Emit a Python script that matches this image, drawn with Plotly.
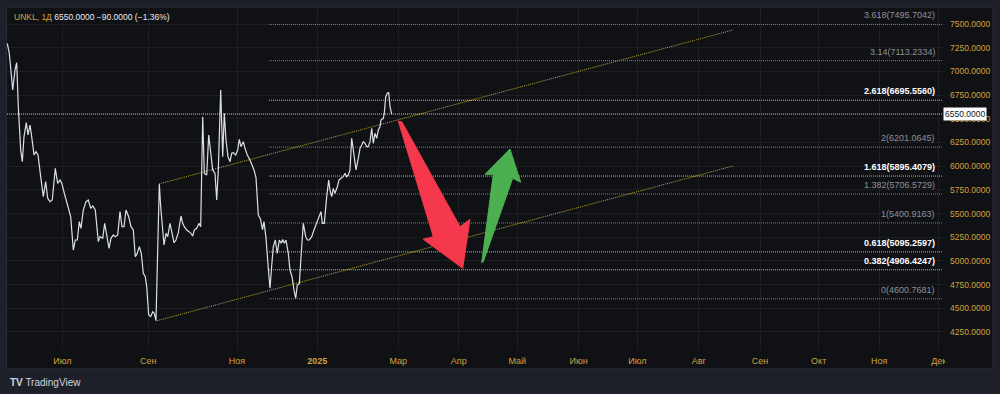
import plotly.graph_objects as go

# ---------------- data ----------------
# bar index (time position along the axis) and close prices
bar_t = [
    0.3, 2.3, 5.7, 8, 9.7, 11.3, 13.7, 15.3, 17, 19.3,
    21, 23, 24.7, 27, 29, 31, 33.7, 36.3, 38.7, 40.7,
    43, 45.3, 48.3, 50.7, 53, 55, 57.3, 61.3, 63.7, 66.3,
    68.3, 70.3, 72.3, 74, 76.3, 79, 81.3, 83.7, 85.7, 88.3,
    91.3, 93, 95.7, 97.7, 99.7, 102, 104, 106.3, 108.3, 110.7,
    113, 115, 117, 119, 121.7, 124, 126.3, 128.3, 130.3, 132.3,
    134.3, 136.3, 138.3, 139.7, 141.7, 143.7, 145.7, 147.3, 149, 152.3,
    153.7, 155.7, 157, 159, 160.7, 163, 164.7, 167, 169, 171.3,
    174, 175.7, 177.3, 179.7, 182, 184, 185.7, 187.3, 189.7, 192,
    193.7, 195.7, 197.3, 199.7, 201.7, 203, 204.7, 205.7, 208, 209.7,
    211.3, 213.7, 215.7, 217.3, 219, 221, 223, 224.7, 226.3, 228.7,
    230.7, 232.3, 234, 236.3, 238, 240.3, 243, 245.3, 247, 249,
    251.3, 253.5, 255.5, 257, 259, 261.3, 263, 264.7, 266.3, 268.3,
    270.3, 272.3, 274, 275.7, 277.3, 279, 281.3, 283, 285, 287,
    288.7, 290.3, 292.3, 294.7, 296.3, 298.7, 300.3, 302.3, 304.7, 307,
    309.7, 312, 314, 315.3, 317.3, 319.7, 321.7, 323, 324.7, 326.3,
    328, 330.3, 332, 334, 336.3, 338, 339.7, 341.3, 343, 344.7,
    347, 349, 351.3, 353, 354.7, 356.3, 358, 359.7, 361.3, 363,
    364.7, 366.3, 368, 369.7, 371.3, 373, 374, 376.3, 377.3, 378.7,
    380.3, 381.7, 383, 384.7,
]
close = [
    7296, 7191, 6804, 7015, 7092, 6627, 6170, 6047, 6311, 6459,
    6329, 6434, 6311, 6118, 6153, 6118, 5889, 5678, 5836, 5661,
    5625, 5643, 5977, 5819, 5854, 5812, 5714, 5572, 5467, 5115,
    5221, 5221, 5414, 5344, 5537, 5625, 5643, 5555, 5580, 5537,
    5203, 5256, 5238, 5397, 5291, 5133, 5238, 5274, 5256, 5274,
    5520, 5361, 5361, 5537, 5467, 5361, 5326, 5044, 5080, 5150,
    5080, 4869, 4833, 4728, 4429, 4412, 4464, 4447, 4370, 5810,
    5572, 5361, 5168, 5291, 5256, 5397, 5291, 5192, 5221, 5298,
    5474, 5397, 5361, 5326, 5309, 5291, 5263, 5326, 5344, 5397,
    5361, 6522, 5924, 5907, 6329, 6206, 6030, 5960, 5924, 5643,
    5960, 6804, 6100, 6558, 6276, 6100, 6047, 6136, 6142, 6118,
    6170, 6283, 6206, 6258, 6188, 6118, 6065, 6000, 5960, 5880,
    5485, 5440, 5330, 5414, 5240, 4920, 4711, 4950, 5150, 5221,
    5080, 5221, 5186, 5227, 5186, 5221, 5080, 4904, 4833, 4693,
    4606, 4746, 4757, 5150, 5397, 5256, 5221, 5221, 5256, 5326,
    5397, 5467, 5520, 5397, 5397, 5678, 5854, 5748, 5678, 5766,
    5713, 5783, 5854, 5872, 5889, 5924, 5889, 5907, 5960, 6294,
    6100, 5960, 6083, 6188, 6223, 6258, 6241, 6206, 6206, 6258,
    6399, 6241, 6347, 6294, 6381, 6416, 6487, 6505, 6558, 6733,
    6769, 6776, 6627, 6550,
]
last_price = 6550.0

# month ticks on the time axis
month_t = [55.3, 141.3, 230, 310.3, 391.3, 451.7, 510.3, 571.7, 630.3, 691.7, 753, 811.7, 872.3, 931.7]
month_labels = ["Июл", "Сен", "Ноя", "<b>2025</b>", "Мар", "Апр", "Май", "Июн", "Июл", "Авг", "Сен", "Окт", "Ноя", "Дек"]

# price axis ticks
price_ticks = [4250, 4500, 4750, 5000, 5250, 5500, 5750, 6000, 6250, 6500, 6750, 7000, 7250, 7500]

# Fibonacci extension levels
fib_ratio = ["3.618", "3.14", "2.618", "2", "1.618", "1.382", "1", "0.618", "0.382", "0"]
fib_price = [7495.7042, 7113.2334, 6695.5560, 6201.0645, 5895.4079, 5706.5729, 5400.9163, 5095.2597, 4906.4247, 4600.7681]
fib_bright = [False, False, True, False, True, False, False, True, True, False]
fib_span_t = [262, 936]

# parallel channel
chan_upper_t = [152, 726]
chan_upper_v = [5812, 7437]
chan_lower_t = [150, 726]
chan_lower_v = [4369, 6002]

# drawn arrows (polygons)
red_arrow_t = [391.3, 395, 453, 463, 455.7, 416.3, 426.3, 391.3]
red_arrow_v = [6476, 6466, 5361, 5439, 4922, 5228, 5256, 6476]
green_arrow_t = [474.7, 486.3, 478, 503, 513.7, 505.7, 476.3, 474.7]
green_arrow_v = [4981, 5914, 5914, 6181, 5830, 5872, 4992, 4981]

# ---------------- style ----------------
OUTER = "#1d2029"
PANEL = "#101115"
GRID = "#1c1e24"
GOLD = "#d2a13c"
FONT = "Liberation Sans, Arial, sans-serif"
FINE_DOT = "1px,1px"

X_RANGE = [0, 938]
Y_RANGE = [4060, 7679.4]

fig = go.Figure()

# channel
fig.add_trace(go.Scatter(x=chan_upper_t, y=chan_upper_v, mode="lines",
                         line=dict(color="#bba92e", width=1, dash=FINE_DOT), hoverinfo="skip"))
fig.add_trace(go.Scatter(x=chan_lower_t, y=chan_lower_v, mode="lines",
                         line=dict(color="#bba92e", width=1, dash=FINE_DOT), hoverinfo="skip"))

# fib levels
for r, p, b in zip(fib_ratio, fib_price, fib_bright):
    fig.add_trace(go.Scatter(x=fib_span_t, y=[p, p], mode="lines",
                             line=dict(color="#b4b7bf" if b else "#7a7d86", width=1, dash=FINE_DOT),
                             hoverinfo="skip"))
    txt = f"{r}({p:.4f})"
    fig.add_annotation(x=fib_span_t[1] - 6, y=p, xref="x", yref="y", text=f"<b>{txt}</b>" if b else txt,
                       showarrow=False, xanchor="right", yanchor="bottom", yshift=2,
                       font=dict(family=FONT, size=9, color="#ffffff" if b else "#8e919a"))

# last price line
fig.add_trace(go.Scatter(x=[X_RANGE[0], fib_span_t[1]], y=[last_price, last_price], mode="lines",
                         line=dict(color="#d0d3da", width=1, dash=FINE_DOT), hoverinfo="skip"))

# price line
fig.add_trace(go.Scatter(x=bar_t, y=close, mode="lines",
                         line=dict(color="#dcdfe5", width=1.2), hoverinfo="skip"))

# arrows
fig.add_trace(go.Scatter(x=red_arrow_t, y=red_arrow_v, mode="lines", fill="toself",
                         fillcolor="#f5384b", line=dict(color="#f5384b", width=1), hoverinfo="skip"))
fig.add_trace(go.Scatter(x=green_arrow_t, y=green_arrow_v, mode="lines", fill="toself",
                         fillcolor="#4caf50", line=dict(color="#4caf50", width=1), hoverinfo="skip"))

# panel background (paper coords: plot area spans px 7..945 x, 7..350 y)
fig.add_shape(type="rect", xref="paper", yref="paper", x0=-0.0005, x1=(993 - 7) / 938,
              y0=(350 - 369) / 343, y1=1.0, layer="below",
              fillcolor=PANEL, line=dict(color="#2a2e39", width=1))
# clip the last month label at the price-axis edge
fig.add_shape(type="rect", xref="paper", yref="paper", x0=1.0, x1=(992 - 7) / 938,
              y0=(350 - 368) / 343, y1=0, layer="above",
              fillcolor=PANEL, line=dict(width=0))

# last price label on axis
fig.add_annotation(x=1.0, y=last_price, xref="paper", yref="y", text=f"{last_price:.4f}",
                   showarrow=False, xanchor="left", yanchor="middle", xshift=-2,
                   bgcolor="#ffffff", borderpad=1,
                   font=dict(family=FONT, size=8.5, color="#131722"))

# header
fig.add_annotation(x=(12 - 7) / 938, y=(350 - 17) / 343, xref="paper", yref="paper",
                   text=f"<span style='color:{GOLD}'>UNKL, 1Д</span> "
                        f"<span style='color:#e8eaee'>6550.0000 −90.0000 (−1.36%)</span>",
                   showarrow=False, xanchor="left", yanchor="middle",
                   font=dict(family=FONT, size=8.5))

# TradingView logo
fig.add_annotation(x=(8 - 7) / 938, y=(350 - 382) / 343, xref="paper", yref="paper",
                   text="<b>TV</b> TradingView", showarrow=False, xanchor="left", yanchor="middle",
                   font=dict(family=FONT, size=10, color="#d1d4dc"))

fig.update_layout(
    width=1000, height=394,
    margin=dict(l=7, r=55, t=7, b=44),
    paper_bgcolor=OUTER, plot_bgcolor=PANEL,
    showlegend=False,
    xaxis=dict(range=X_RANGE, tickmode="array", tickvals=month_t, ticktext=month_labels,
               showgrid=True, gridcolor=GRID, gridwidth=1, zeroline=False, showline=False,
               ticks="", ticklabelstandoff=4,
               tickfont=dict(family=FONT, size=9, color=GOLD), fixedrange=True),
    yaxis=dict(range=Y_RANGE, side="right", tickmode="array", tickvals=price_ticks,
               ticktext=[f"{v:.4f}" for v in price_ticks],
               showgrid=True, gridcolor=GRID, gridwidth=1, zeroline=False, showline=False,
               ticks="", ticklabelstandoff=4,
               tickfont=dict(family=FONT, size=8.5, color=GOLD), fixedrange=True),
)

fig.write_html("out.html", config={"displayModeBar": False},
               post_script="document.body.style.margin='0';document.body.style.padding='0';"
                           "document.body.style.overflow='hidden';")
